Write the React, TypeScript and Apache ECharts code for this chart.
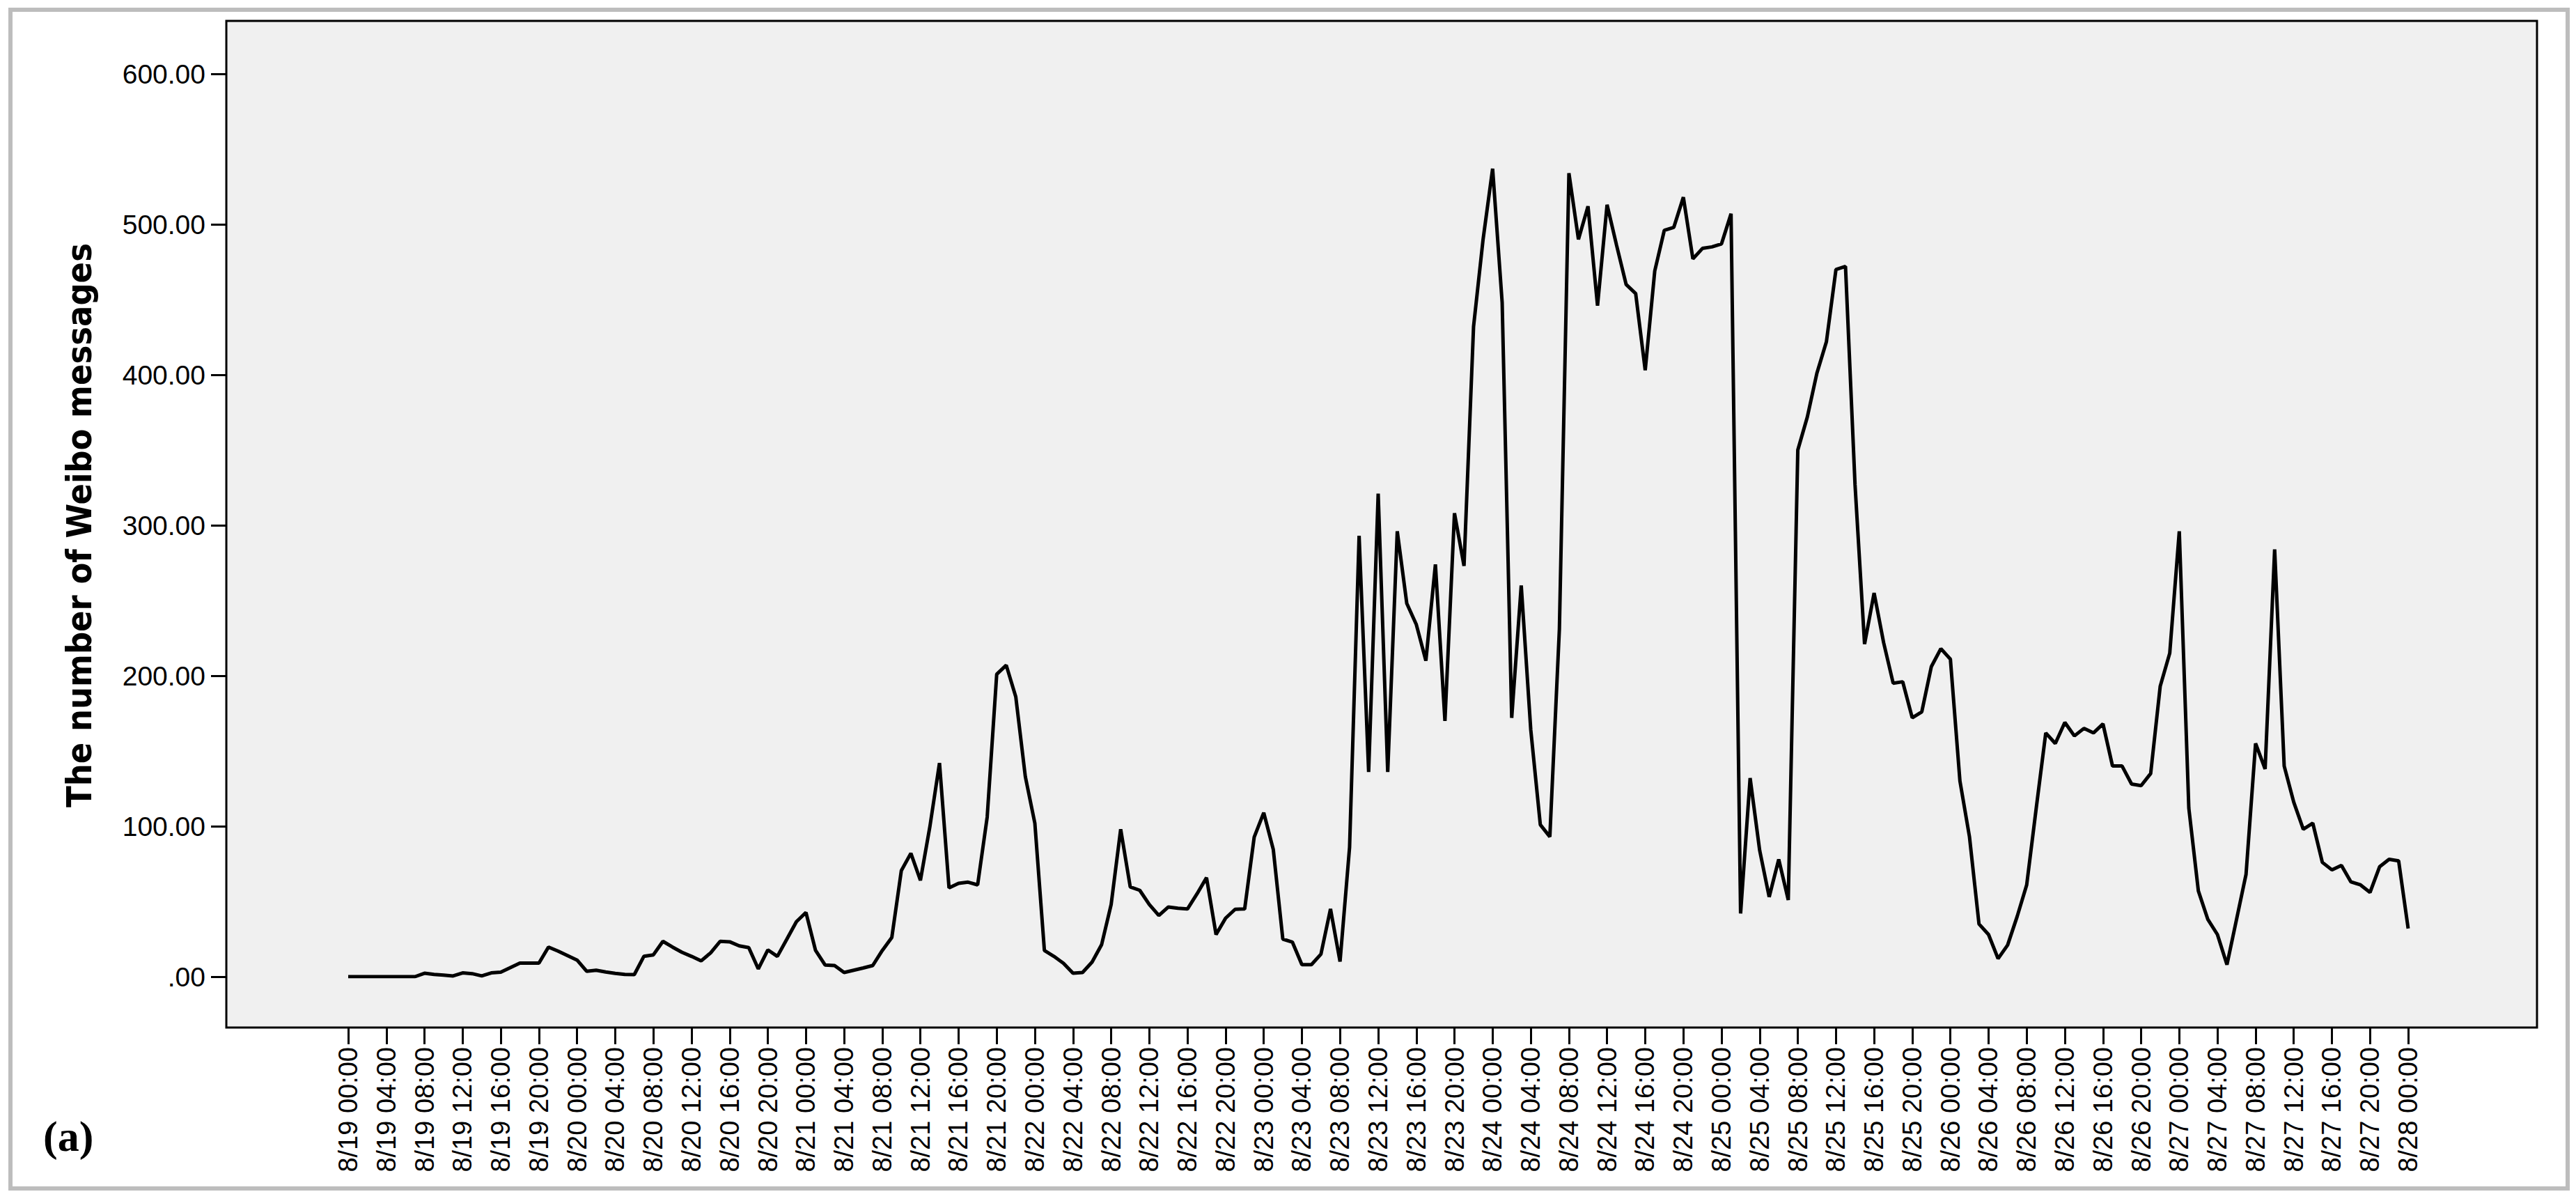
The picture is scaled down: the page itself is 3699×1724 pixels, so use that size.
import React, { useEffect, useRef } from "react";
import * as echarts from "echarts";

// ---- Data (hourly Weibo message counts, 8/19 00:00 – 8/28 00:00) ----
const days = ["8/19", "8/20", "8/21", "8/22", "8/23", "8/24", "8/25", "8/26", "8/27", "8/28"];
const hoursOfDay = [
  "00:00", "01:00", "02:00", "03:00", "04:00", "05:00", "06:00", "07:00",
  "08:00", "09:00", "10:00", "11:00", "12:00", "13:00", "14:00", "15:00",
  "16:00", "17:00", "18:00", "19:00", "20:00", "21:00", "22:00", "23:00",
];

const countsAug19 = [0, 0, 0, 0, 0, 0, 0, 0, 2.3, 1.5, 1, 0.5, 2.5, 2, 0.5, 2.5, 3, 6, 9, 9, 9, 19.7, 17, 14];
const countsAug20 = [11, 3.6, 4.3, 3.1, 2.2, 1.5, 1.4, 13.5, 14.5, 23.5, 19.7, 16.2, 13.5, 10.5, 15.8, 23.5, 23.2, 20.5, 19.3, 5.2, 17.8, 13.5, 25, 36.6];
const countsAug21 = [42.7, 17.5, 7.8, 7.4, 2.8, 4.3, 5.8, 7.4, 17.4, 26, 70.5, 82, 64, 100, 142, 59, 62, 62.8, 61, 106, 201, 207, 186, 133];
const countsAug22 = [102, 17.4, 13.5, 8.9, 2.3, 2.8, 9.7, 21.3, 48, 98, 59.7, 57.4, 48, 40.7, 46.3, 45.5, 45, 55, 65.8, 28, 38.9, 44.8, 45, 92.8];
const countsAug23 = [109, 84.6, 25, 23, 8, 8, 15, 45, 10, 86, 293, 136, 321, 136, 296, 248, 234, 210, 274, 170, 308, 273, 432, 490];
const countsAug24 = [537, 448, 172, 260, 164, 101, 93, 231, 534, 490, 512, 446, 513, 486, 460, 454, 403, 469, 496, 498, 518, 477, 484, 485];
const countsAug25 = [487, 507, 42, 132, 84, 53, 78, 51, 350, 372, 401, 422, 470, 472, 327, 221, 255, 222, 195, 196, 172, 176, 206, 218];
const countsAug26 = [211, 130, 93, 35, 28, 12, 21, 40, 61, 112, 162, 155, 169, 160, 165, 162, 168, 140, 140, 128, 127, 135, 193, 215];
const countsAug27 = [296, 112, 57, 38, 28, 8, 38, 68, 155, 138, 284, 140, 116, 98, 102, 76, 71, 74, 63, 61, 56, 73, 78, 77];
const countsAug28 = [32];

const yTickValues = [0, 100, 200, 300, 400, 500, 600];

const messageCounts = [
  ...countsAug19, ...countsAug20, ...countsAug21, ...countsAug22, ...countsAug23,
  ...countsAug24, ...countsAug25, ...countsAug26, ...countsAug27, ...countsAug28,
];

const categories: string[] = [];
for (let d = 0; d < days.length - 1; d++) {
  for (const h of hoursOfDay) categories.push(`${days[d]} ${h}`);
}
categories.push(`${days[days.length - 1]} ${hoursOfDay[0]}`);

// ---- Layout ----
const W = 3699;
const H = 1724;
const FRAME = { x: 325, y: 30, w: 3318, h: 1445 };
const GRID = { left: 500, top: 106, right: 3458, bottom: 1402 };

export default function App() {
  const ref = useRef<HTMLDivElement>(null);

  useEffect(() => {
    if (!ref.current) return;
    const chart = echarts.init(ref.current, null, { renderer: "svg", width: W, height: H });
    const option = {
      animation: false,
      backgroundColor: "#ffffff",
      textStyle: { fontFamily: "'Liberation Sans', Arial, sans-serif" },
      graphic: [
        {
          type: "rect",
          z: -10,
          silent: true,
          shape: { x: FRAME.x, y: FRAME.y, width: FRAME.w, height: FRAME.h },
          style: { fill: "#f0f0f0", stroke: "#000000", lineWidth: 3 },
        },
        {
          type: "rect",
          z: -10,
          silent: true,
          shape: { x: 15, y: 14, width: 3672, height: 1692 },
          style: { fill: "none", stroke: "#bdbdbd", lineWidth: 6 },
        },
        {
          type: "text",
          left: 62,
          top: 1600,
          silent: true,
          style: {
            text: "(a)",
            font: "bold 62px 'Liberation Serif', 'Times New Roman', serif",
            fill: "#000000",
          },
        },
      ],
      grid: {
        left: GRID.left,
        top: GRID.top,
        width: GRID.right - GRID.left,
        height: GRID.bottom - GRID.top,
        containLabel: false,
      },
      xAxis: {
        type: "category",
        data: categories,
        boundaryGap: false,
        offset: FRAME.y + FRAME.h - GRID.bottom,
        axisLine: { show: false, onZero: false },
        axisTick: {
          show: true,
          interval: 3,
          length: 24,
          lineStyle: { color: "#000000", width: 3 },
        },
        axisLabel: {
          interval: 3,
          rotate: 90,
          margin: 28,
          color: "#000000",
          fontSize: 38,
          fontFamily: "'Liberation Sans', Arial, sans-serif",
        },
        splitLine: { show: false },
      },
      yAxis: {
        type: "value",
        min: yTickValues[0],
        max: yTickValues[yTickValues.length - 1],
        interval: yTickValues[1] - yTickValues[0],
        offset: GRID.left - FRAME.x,
        name: "The number of Weibo messages",
        nameLocation: "middle",
        nameGap: 186,
        nameTextStyle: {
          fontFamily: "'Liberation Sans Narrow', 'DejaVu Sans Condensed', sans-serif",
          fontWeight: "bold",
          fontSize: 50,
          color: "#000000",
        },
        axisLine: { show: false, onZero: false },
        axisTick: {
          show: true,
          length: 22,
          lineStyle: { color: "#000000", width: 3 },
        },
        axisLabel: {
          margin: 30,
          color: "#000000",
          fontSize: 39,
          fontFamily: "'Liberation Sans', Arial, sans-serif",
          formatter: (v: number) => (v === 0 ? ".00" : v.toFixed(2)),
        },
        splitLine: { show: false },
      },
      series: [
        {
          type: "line",
          data: messageCounts,
          symbol: "none",
          lineStyle: { color: "#000000", width: 5 },
          z: 5,
        },
      ],
    };
    chart.setOption(option as any);
    return () => chart.dispose();
  }, []);

  return (
    <div
      ref={ref}
      style={{ position: "fixed", left: 0, top: 0, width: W, height: H, background: "#ffffff" }}
    />
  );
}
